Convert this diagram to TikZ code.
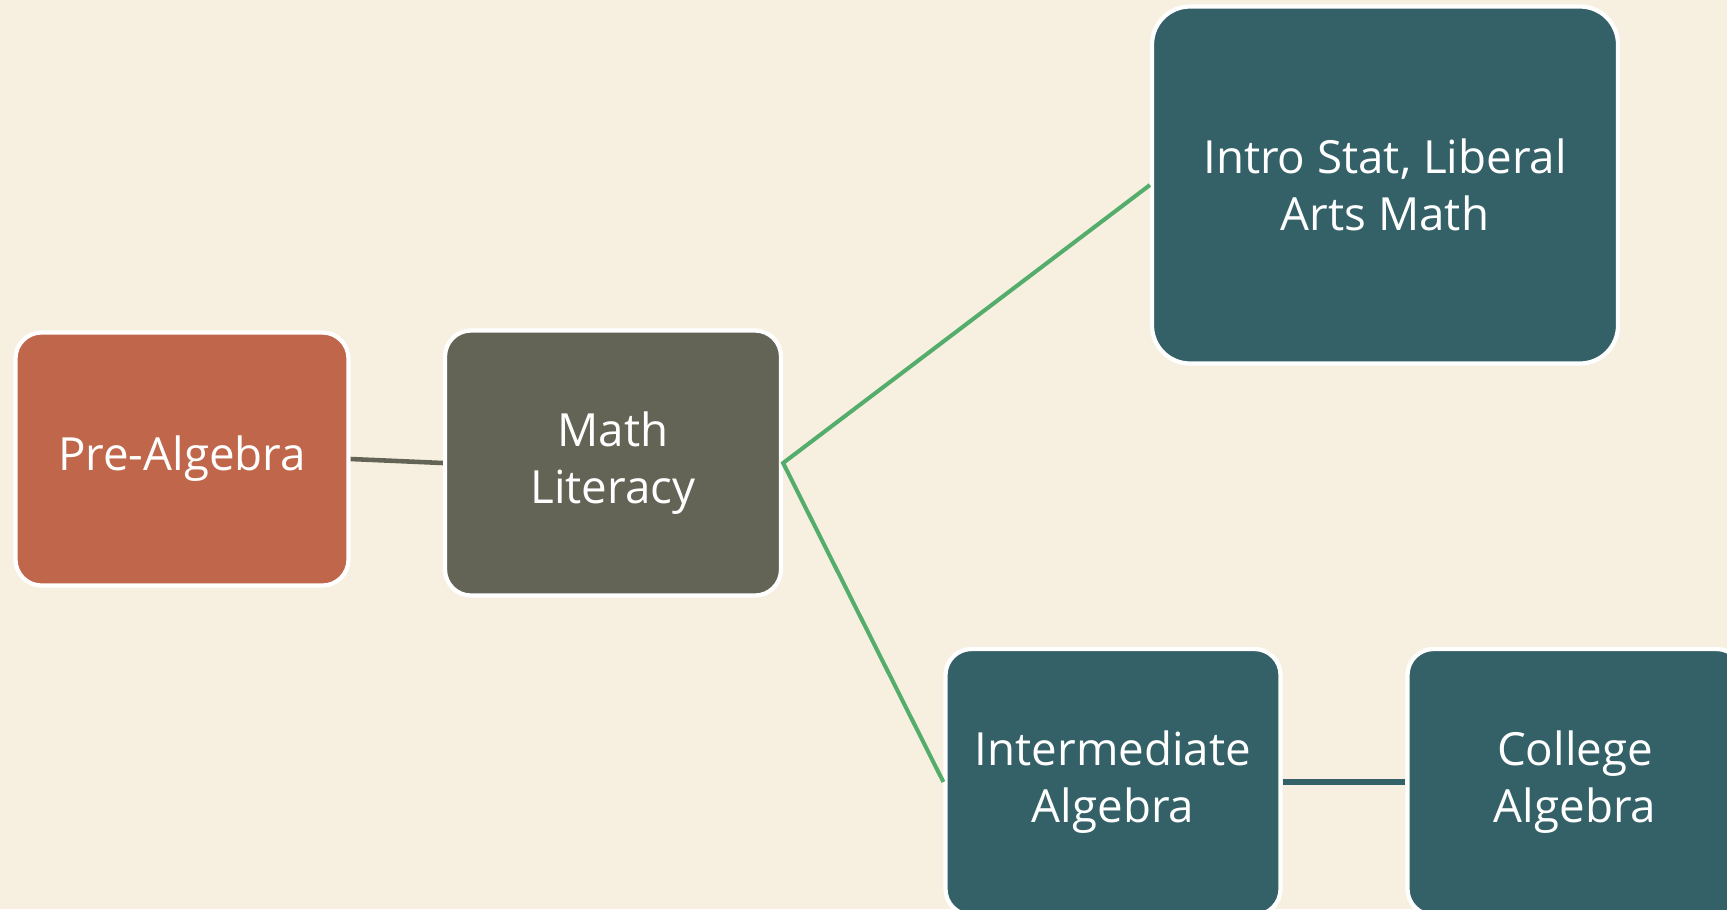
\documentclass[tikz,border=0pt]{standalone}
\usepackage{fontspec}
\setmainfont{Open Sans}
\usepackage{xcolor}
\usetikzlibrary{positioning}

\definecolor{paper}{HTML}{F7F0E0}
\definecolor{rust}{HTML}{C0664A}
\definecolor{slate}{HTML}{636455}
\definecolor{teal}{HTML}{336167}
\definecolor{leaf}{HTML}{55AD6B}

\begin{document}
\begin{tikzpicture}[
    font=\fontsize{13}{16.2}\selectfont,
    course/.style={draw=white, line width=1.2pt, rounded corners=0.26cm,
      text=white, align=center, inner sep=0pt},
    link/.style={line width=1.3pt},
  ]
  %% ---- page --------------------------------------------------------------
  \useasboundingbox (0,0) rectangle (17.27,-9.09);
  \clip (0,0) rectangle (17.27,-9.09);
  \fill[paper] (0,0) rectangle (17.27,-9.09);

  %% ---- courses -------------------------------------------------------------
  \node[course, fill=rust, minimum width=3.33cm, minimum height=2.53cm]
    (pre) at (1.82,-4.59) {Pre-Algebra};
  \node[course, fill=slate, minimum width=3.36cm, minimum height=2.65cm]
    (lit) at (6.13,-4.63) {Math\\Literacy};
  \node[course, fill=teal, minimum width=4.66cm, minimum height=3.57cm,
    rounded corners=0.38cm]
    (stat) at (13.85,-1.85) {Intro Stat, Liberal\\Arts Math};
  \node[course, fill=teal, minimum width=3.35cm, minimum height=2.66cm]
    (inter) at (11.13,-7.82) {Intermediate\\Algebra};
  \node[course, fill=teal, minimum width=3.35cm, minimum height=2.66cm]
    (coll) at (15.75,-7.82) {College\\Algebra};

  %% ---- links -------------------------------------------------------------
  \draw[link, slate] (pre.east) -- (lit.west);
  \draw[link, leaf, line width=1.15pt] (stat.west) -- (lit.east) -- (inter.west);
  \draw[link, teal, line width=1.6pt] (inter.east) -- (coll.west);
\end{tikzpicture}
\end{document}
